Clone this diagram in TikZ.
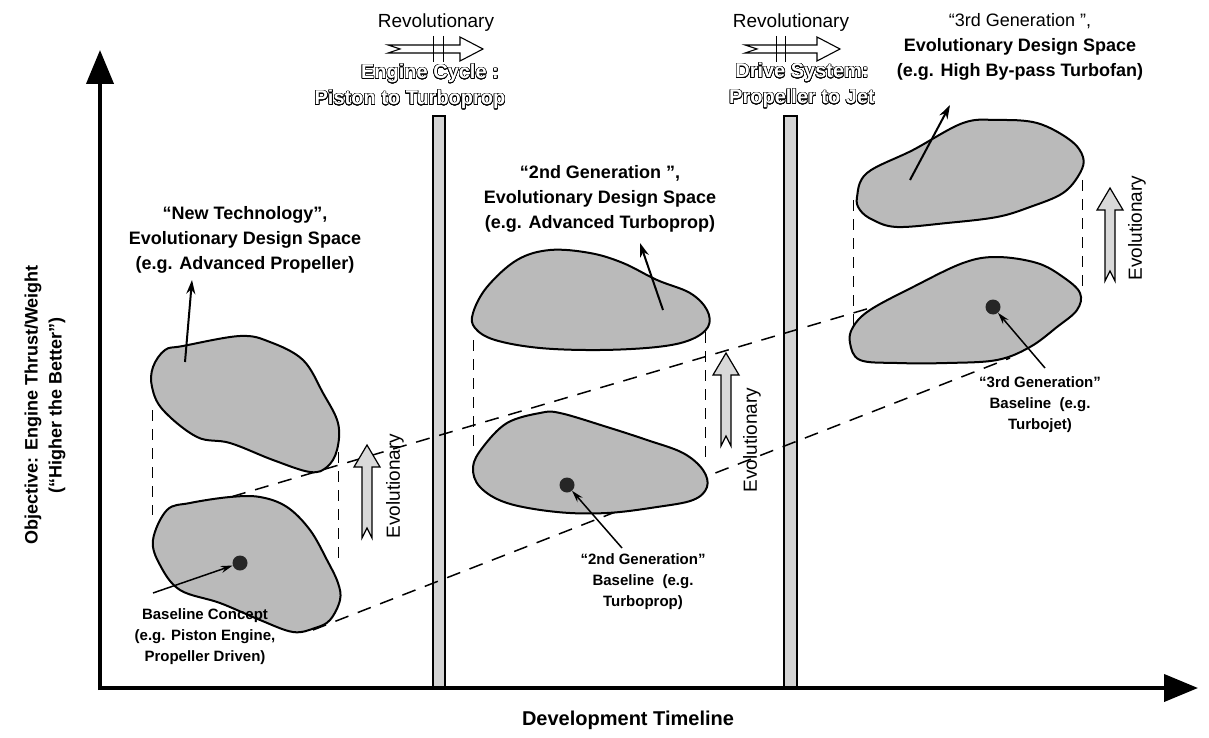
\documentclass[tikz,border=0pt]{standalone}
\usepackage{fontspec}
\setmainfont{Liberation Sans}
\usepackage[copies]{contour}
\usetikzlibrary{arrows.meta}
\contourlength{0.55pt}
\contournumber{24}

\tikzset{
  bigtag/.style={font=\bfseries\fontsize{18}{25}\selectfont, align=center, inner sep=0pt},
  basetag/.style={font=\bfseries\fontsize{15}{21}\selectfont, align=center, inner sep=0pt},
  revtag/.style={font=\fontsize{19}{22}\selectfont, inner sep=0pt},
  cycletag/.style={font=\bfseries\fontsize{20}{24}\selectfont, text=white, inner sep=0pt},
  blob/.style={draw=black, line width=2pt, fill=black!27},
  barstrip/.style={draw=black, line width=1.5pt, fill=black!17},
  timeaxis/.style={line width=4pt, -{Triangle[length=34pt, width=27pt]}},
  trend/.style={line width=1.5pt, dash pattern=on 14pt off 10pt},
  proj/.style={line width=1pt, dash pattern=on 11pt off 8pt},
  basedot/.style={circle, fill=black!85, minimum size=15pt, inner sep=0pt},
  lead/.style={line width=1.5pt, -{Stealth[length=12pt, width=7pt]}},
  spaceptr/.style={line width=2pt, -{Stealth[length=14pt, width=9pt]}},
  revarrow/.pic={
    \draw[line width=1.1pt, fill=white] (0,-4) -- (72,-4) -- (72,-12) -- (95,0)
      -- (72,12) -- (72,4) -- (0,4) -- (12,0) -- cycle;},
  evoarrow/.pic={
    \draw[line width=1.2pt, fill=black!15] (0,0) -- (13,22) -- (5,22) -- (5,93)
      -- (0,83) -- (-5,93) -- (-5,22) -- (-13,22) -- cycle;}
}

\begin{document}
\begin{tikzpicture}[x=1pt, y=-1pt]
  \useasboundingbox (0,0) rectangle (1209,738);

  % axes
  \coordinate (origin) at (100,688);
  \coordinate (ytop) at (100,50);
  \coordinate (xend) at (1198,688);
  \draw[barstrip] (433,116) rectangle (445,688);
  \draw[barstrip] (784,116) rectangle (797,688);
  \draw[timeaxis] ([yshift=-2pt]origin) -- (ytop);
  \draw[timeaxis] ([xshift=-2pt]origin) -- (xend);

  \node[font=\bfseries\fontsize{20}{24}\selectfont] (xlabel) at (628,720) {Development Timeline};
  \node[bigtag, font=\bfseries\fontsize{18}{24}\selectfont, rotate=90] (ylabel) at (45,405)
    {Objective: Engine Thrust/Weight\\(“Higher the Better”)};

  % revolutionary steps
  \node[revtag] (rev1) at (436,23) {Revolutionary};
  \pic at (388,49) {revarrow};
  \draw[line width=1pt] (433,36) -- (433,62) (443,36) -- (443,62);
  \node[cycletag] (cyc1a) at (430,74) {\contour{black}{Engine Cycle :}};
  \node[cycletag] (cyc1b) at (410,100) {\contour{black}{Piston to Turboprop}};

  \node[revtag] (rev2) at (791,23) {Revolutionary};
  \pic at (745,49) {revarrow};
  \draw[line width=1pt] (776,36) -- (776,62) (785,36) -- (785,62);
  \node[cycletag] (cyc2a) at (802,73) {\contour{black}{Drive System:}};
  \node[cycletag] (cyc2b) at (802,99) {\contour{black}{Propeller to Jet}};

  % trend lines and projections
  \draw[trend] (163,517) -- (870,308);
  \draw[trend] (313,630) -- (1010,358);
  \draw[proj] (152,410) -- (152,515);
  \draw[proj] (338,452) -- (338,560);
  \draw[proj] (473,340) -- (473,447);
  \draw[proj] (705,332) -- (705,458);
  \draw[proj] (853,200) -- (853,325);
  \draw[proj] (1082,180) -- (1082,290);

  % design spaces
  \draw[blob] plot[smooth cycle, tension=0.6] coordinates {(165,350) (183,346) (240,336)
    (270,342) (303,360) (323,393) (338,423) (337,450) (327,467) (310,472) (273,460)
    (230,443) (197,437) (163,410) (152,387) (153,367)};
  \draw[blob] plot[smooth cycle, tension=0.6] coordinates {(167,510) (190,503) (230,497)
    (260,497) (287,507) (310,530) (327,560) (338,583) (340,600) (330,620) (315,628)
    (293,632) (260,620) (220,603) (180,590) (160,565) (153,540)};
  \draw[blob] plot[smooth cycle, tension=0.6] coordinates {(473,313) (487,287) (517,260)
    (550,250) (590,253) (623,263) (657,280) (690,293) (707,310) (708,327) (690,340)
    (657,347) (600,350) (540,348) (495,340) (475,328)};
  \draw[blob] plot[smooth cycle, tension=0.6] coordinates {(473,467) (483,447) (507,423)
    (540,413) (560,413) (607,427) (647,440) (683,453) (703,470) (707,487) (693,500)
    (657,507) (607,513) (557,512) (507,503) (480,487)};
  \draw[blob] plot[smooth cycle, tension=0.6] coordinates {(857,197) (867,173) (913,150)
    (963,123) (997,120) (1037,123) (1070,140) (1083,157) (1080,173) (1063,193)
    (1030,207) (997,217) (947,223) (897,227) (873,220) (860,210)};
  \draw[blob] plot[smooth cycle, tension=0.6] coordinates {(853,327) (870,310) (913,287)
    (963,263) (997,257) (1037,263) (1063,277) (1080,293) (1077,310) (1057,327)
    (1030,347) (997,360) (947,363) (897,363) (860,360) (850,343)};

  % evolutionary steps
  \pic at (367,445) {evoarrow};
  \node[revtag, rotate=90] (evo1) at (395,486) {Evolutionary};
  \pic at (726,353) {evoarrow};
  \node[revtag, rotate=90] (evo2) at (752,440) {Evolutionary};
  \pic at (1110,188) {evoarrow};
  \node[revtag, rotate=90] (evo3) at (1137,228) {Evolutionary};

  % design space labels
  \node[bigtag] (nt-lbl) at (245,240) {“New Technology”,\\Evolutionary Design Space\\(e.g. Advanced Propeller)};
  \node[bigtag] (g2-lbl) at (600,199) {“2nd Generation ”,\\Evolutionary Design Space\\(e.g. Advanced Turboprop)};
  \node[bigtag] (g3-lbl) at (1020,47) {{\mdseries “3rd Generation ”,}\\Evolutionary Design Space\\(e.g. High By-pass Turbofan)};
  \coordinate (nt-in) at (185,362);
  \coordinate (nt-out) at (192,280);
  \coordinate (g2-in) at (663,310);
  \coordinate (g2-out) at (640,243);
  \coordinate (g3-in) at (910,180);
  \coordinate (g3-out) at (950,105);
  \draw[spaceptr] (nt-in) -- (nt-out);
  \draw[spaceptr] (g2-in) -- (g2-out);
  \draw[spaceptr] (g3-in) -- (g3-out);

  % baselines
  \node[basedot] (g1dot) at (240,563) {};
  \node[basedot] (g2dot) at (567,485) {};
  \node[basedot] (g3dot) at (993,307) {};
  \node[basetag] (g1-base) at (205,637) {Baseline Concept\\(e.g. Piston Engine,\\Propeller Driven)};
  \node[basetag] (g2-base) at (643,582) {“2nd Generation”\\Baseline~~(e.g.\\Turboprop)};
  \node[basetag] (g3-base) at (1040,405) {“3rd Generation”\\Baseline~~(e.g.\\Turbojet)};
  \coordinate (g1leg) at (153,593);
  \coordinate (g2leg) at (622,548);
  \coordinate (g3leg) at (1045,368);
  \draw[lead] (g1leg) -- (g1dot);
  \draw[lead] (g2leg) -- (g2dot);
  \draw[lead] (g3leg) -- (g3dot);
\end{tikzpicture}
\end{document}
